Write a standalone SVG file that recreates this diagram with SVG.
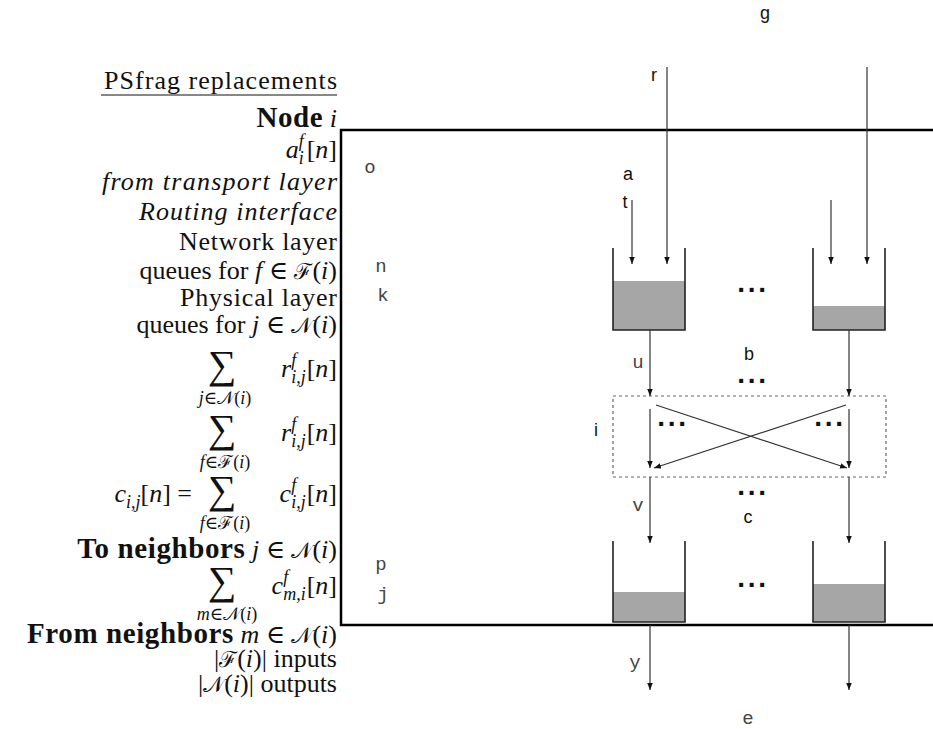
<svg xmlns="http://www.w3.org/2000/svg" width="933" height="729" viewBox="0 0 933 729">
<defs>
<marker id="ah" markerWidth="8" markerHeight="8" refX="7" refY="2.75" orient="auto" markerUnits="userSpaceOnUse"><path d="M0,0 L7,2.75 L0,5.5 z" fill="#111"/></marker>
</defs>
<style>
.L{font-family:"Liberation Serif","DejaVu Serif",serif;font-size:26px;fill:#111}
.it{font-style:italic}
.b{font-weight:bold;font-size:29px;letter-spacing:0.6px}
.s{font-size:18px}
.cal{font-size:22px}
.sig{font-size:40px}
.m{font-family:"Liberation Mono","DejaVu Sans Mono",monospace;font-size:19px;fill:#444}
.h{font-family:"Liberation Sans",Arial,sans-serif;font-size:18px;fill:#111}
.dots{font-family:"Liberation Sans",Arial,sans-serif;font-size:28px;font-weight:bold;fill:#111;letter-spacing:2.7px}
.ar{stroke:#333;stroke-width:1.2;fill:none;marker-end:url(#ah)}
.wall{stroke:#222;stroke-width:1.6;fill:none}
.lvl{fill:#a6a6a6}
.box{stroke:#000;stroke-width:2.5;fill:none}
.dash{stroke:#666;stroke-width:1.2;fill:none;stroke-dasharray:3 3}
</style>
<rect width="933" height="729" fill="#fff"/>

<g id="labels-left" text-anchor="end">
<text class="L" x="337" y="89" textLength="233" lengthAdjust="spacing">PSfrag replacements</text>
<line x1="101" y1="95" x2="337" y2="95" stroke="#111" stroke-width="1"/>
<text class="L" x="337" y="127"><tspan class="b">Node</tspan> <tspan class="it">i</tspan></text>
<text class="L" x="337" y="158"><tspan class="it">a</tspan><tspan class="s it" dy="-11">f</tspan><tspan class="s it" dx="-5" dy="17">i</tspan><tspan dx="3" dy="-6">[</tspan><tspan class="it">n</tspan>]</text>
<text class="L it" x="337" y="190" textLength="235" lengthAdjust="spacing">from transport layer</text>
<text class="L it" x="337" y="220" textLength="198" lengthAdjust="spacing">Routing interface</text>
<text class="L" x="337" y="250" textLength="158" lengthAdjust="spacing">Network layer</text>
<text class="L" x="337" y="279">queues for <tspan class="it">f</tspan> ∈ <tspan class="cal">ℱ</tspan>(<tspan class="it">i</tspan>)</text>
<text class="L" x="337" y="306" textLength="157" lengthAdjust="spacing">Physical layer</text>
<text class="L" x="337" y="333">queues for <tspan class="it">j</tspan> ∈ <tspan class="cal">𝒩</tspan>(<tspan class="it">i</tspan>)</text>

<text class="L" x="337" y="377"><tspan class="it">r</tspan><tspan class="s it" dy="-11">f</tspan><tspan class="s it" dx="-5" dy="17">i,j</tspan><tspan dx="1" dy="-6">[</tspan><tspan class="it">n</tspan>]</text>
<text class="L sig" x="222" y="378" text-anchor="middle">∑</text>
<text class="L s" x="225" y="404" text-anchor="middle"><tspan class="it">j</tspan>∈𝒩(<tspan class="it">i</tspan>)</text>

<text class="L" x="337" y="441"><tspan class="it">r</tspan><tspan class="s it" dy="-11">f</tspan><tspan class="s it" dx="-5" dy="17">i,j</tspan><tspan dx="1" dy="-6">[</tspan><tspan class="it">n</tspan>]</text>
<text class="L sig" x="222" y="442" text-anchor="middle">∑</text>
<text class="L s" x="225" y="468" text-anchor="middle"><tspan class="it">f</tspan>∈ℱ(<tspan class="it">i</tspan>)</text>

<text class="L" x="192" y="502"><tspan class="it">c</tspan><tspan class="s it" dy="6">i,j</tspan><tspan dy="-6">[</tspan><tspan class="it">n</tspan>] =</text>
<text class="L" x="337" y="502"><tspan class="it">c</tspan><tspan class="s it" dy="-11">f</tspan><tspan class="s it" dx="-5" dy="17">i,j</tspan><tspan dx="1" dy="-6">[</tspan><tspan class="it">n</tspan>]</text>
<text class="L sig" x="222" y="503" text-anchor="middle">∑</text>
<text class="L s" x="225" y="529" text-anchor="middle"><tspan class="it">f</tspan>∈ℱ(<tspan class="it">i</tspan>)</text>

<text class="L" x="337" y="558"><tspan class="b">To neighbors</tspan> <tspan class="it">j</tspan> ∈ <tspan class="cal">𝒩</tspan>(<tspan class="it">i</tspan>)</text>

<text class="L" x="337" y="594"><tspan class="it">c</tspan><tspan class="s it" dy="-11">f</tspan><tspan class="s it" dx="-5" dy="17">m,i</tspan><tspan dx="1" dy="-6">[</tspan><tspan class="it">n</tspan>]</text>
<text class="L sig" x="222" y="594" text-anchor="middle">∑</text>
<text class="L s" x="227" y="620" text-anchor="middle"><tspan class="it">m</tspan>∈𝒩(<tspan class="it">i</tspan>)</text>

<text class="L" x="337" y="643"><tspan class="b">From neighbors</tspan> <tspan class="it">m</tspan> ∈ <tspan class="cal">𝒩</tspan>(<tspan class="it">i</tspan>)</text>
<text class="L" x="337" y="667">|<tspan class="cal">ℱ</tspan>(<tspan class="it">i</tspan>)| inputs</text>
<text class="L" x="337" y="692">|<tspan class="cal">𝒩</tspan>(<tspan class="it">i</tspan>)| outputs</text>
</g>

<g id="node-i">
<path class="box" d="M933,130 H341 V625 H933"/>
</g>

<g id="routing-block">
<rect class="dash" x="613" y="396" width="273" height="81"/>
</g>

<g id="queue-net-1">
<rect class="lvl" x="613" y="281" width="72" height="49"/>
<path class="wall" d="M613,248 V330 H685 V248"/>
</g>
<g id="queue-net-2">
<rect class="lvl" x="813" y="306" width="72" height="24"/>
<path class="wall" d="M813,248 V330 H885 V248"/>
</g>
<g id="queue-phy-1">
<rect class="lvl" x="613" y="592" width="72" height="30"/>
<path class="wall" d="M613,541 V622 H685 V541"/>
</g>
<g id="queue-phy-2">
<rect class="lvl" x="813" y="584" width="72" height="38"/>
<path class="wall" d="M813,541 V622 H885 V541"/>
</g>

<g id="connectors">
<line class="ar" x1="632" y1="200" x2="632" y2="264"/>
<line class="ar" x1="667" y1="67" x2="667" y2="264"/>
<line class="ar" x1="831" y1="200" x2="831" y2="264"/>
<line class="ar" x1="867" y1="67" x2="867" y2="264"/>
<line class="ar" x1="650" y1="330" x2="650" y2="396"/>
<line class="ar" x1="849" y1="330" x2="849" y2="396"/>
<line class="ar" x1="650" y1="409" x2="650" y2="468"/>
<line class="ar" x1="849" y1="409" x2="849" y2="468"/>
<line class="ar" x1="656" y1="405" x2="847" y2="468"/>
<line class="ar" x1="846" y1="405" x2="654" y2="468"/>
<line class="ar" x1="650" y1="477" x2="650" y2="543"/>
<line class="ar" x1="849" y1="477" x2="849" y2="543"/>
<line class="ar" x1="650" y1="625" x2="650" y2="690"/>
<line class="ar" x1="849" y1="625" x2="849" y2="690"/>
</g>

<g id="dots" text-anchor="middle">
<text class="dots" x="753" y="292">...</text>
<text class="dots" x="753" y="383">...</text>
<text class="dots" x="673" y="426">...</text>
<text class="dots" x="830" y="426">...</text>
<text class="dots" x="753" y="495">...</text>
<text class="dots" x="753" y="587">...</text>
</g>

<g id="labels-right" text-anchor="middle">
<text class="h" x="765" y="19">g</text>
<text class="h" x="654" y="81">r</text>
<text class="h" x="628" y="180">a</text>
<text class="h" x="625" y="208">t</text>
<text class="h" x="749" y="360">b</text>
<text class="h" x="596" y="436">i</text>
<text class="h" x="748" y="523">c</text>
<text class="m" x="370" y="173">o</text>
<text class="m" x="381" y="272">n</text>
<text class="m" x="383" y="301">k</text>
<text class="m" x="638" y="368">u</text>
<text class="m" x="638" y="511">v</text>
<text class="m" x="381" y="570">p</text>
<text class="m" x="383" y="600">j</text>
<text class="m" x="635" y="668">y</text>
<text class="m" x="748" y="724">e</text>
</g>
</svg>
